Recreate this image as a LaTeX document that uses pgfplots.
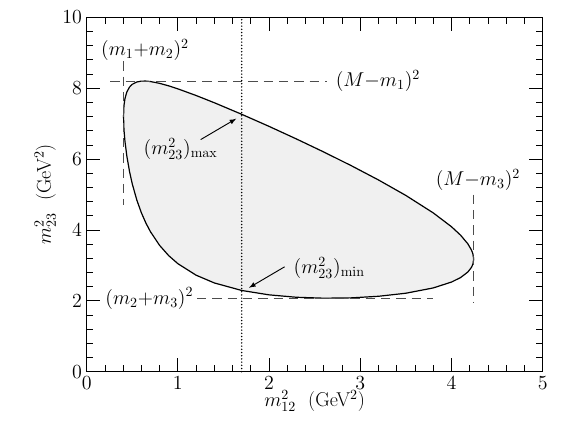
\documentclass[border=0pt]{standalone}
\usepackage{fix-cm}
\usepackage{pgfplots}
\pgfplotsset{compat=1.18}
\begin{document}
\begin{tikzpicture}
\begin{axis}[
  name=ax,
  at={(0,0)}, anchor=south west,
  scale only axis,
  width=342pt, height=265.8pt,
  xmin=0, xmax=5, ymin=0, ymax=10,
  xtick={0,1,2,3,4,5}, ytick={0,2,4,6,8,10},
  minor tick num=4,
  tick align=inside,
  major tick length=10pt, minor tick length=5pt,
  axis line style={line width=0.8pt},
  every tick/.style={line width=0.6pt, black},
  tick label style={font=\fontsize{15}{17}\selectfont},
  label style={font=\fontsize{15}{17}\selectfont},
  xlabel={$m^2_{12}$~~(GeV$^2$)},
  ylabel={$m^2_{23}$~~(GeV$^2$)},
  xlabel style={yshift=6pt},
  ylabel style={yshift=-2pt},
  clip=false,
]
\addplot[fill=gray!12, draw=black, line width=0.9pt] coordinates {
(0.4045,7.196) (0.407,7.426) (0.41,7.525) (0.42,7.707) (0.44,7.891)
(0.47,8.032) (0.5,8.110) (0.55,8.176) (0.6,8.200) (0.65,8.201)
(0.7,8.188) (0.8,8.137) (0.9,8.066) (1.0,7.982) (1.2,7.794)
(1.4,7.590) (1.7,7.264) (2.0,6.923) (2.3,6.568) (2.6,6.200)
(2.9,5.816) (3.2,5.411) (3.5,4.974) (3.8,4.482) (4.0,4.092)
(4.1,3.853) (4.18,3.608) (4.22,3.430) (4.235,3.326) (4.2436,3.176)
(4.235,3.035) (4.22,2.947) (4.18,2.814) (4.1,2.657) (4.0,2.530)
(3.8,2.364) (3.5,2.215) (3.2,2.129) (2.9,2.084) (2.6,2.075)
(2.3,2.101) (2.0,2.169) (1.7,2.293) (1.4,2.505) (1.2,2.724)
(1.0,3.049) (0.9,3.274) (0.8,3.564) (0.7,3.948) (0.65,4.192)
(0.6,4.484) (0.55,4.843) (0.5,5.300) (0.47,5.648) (0.44,6.092)
(0.42,6.499) (0.41,6.800) (0.407,6.936) (0.4045,7.196)
} -- cycle;
% dashed kinematic limits
\addplot[black!70, line width=0.8pt, dash pattern=on 7pt off 4.5pt] coordinates {(0.26,8.2) (2.63,8.2)};
\addplot[black!70, line width=0.8pt, dash pattern=on 7pt off 4.5pt] coordinates {(0.4045,8.76) (0.4045,4.71)};
\addplot[black!70, line width=0.8pt, dash pattern=on 7pt off 4.5pt] coordinates {(1.21,2.07) (3.80,2.07)};
\addplot[black!70, line width=0.8pt, dash pattern=on 7pt off 4.5pt] coordinates {(4.2436,5.0) (4.2436,1.94)};
% dotted line
\addplot[black, line width=1.2pt, dash pattern=on 0pt off 2.4pt, line cap=round] coordinates {(1.70,0) (1.70,10)};
% labels
\node[font=\fontsize{15}{17}\selectfont] at (axis cs:0.64,9.07) {$(m_1{+}m_2)^2$};
\node[font=\fontsize{15}{17}\selectfont, anchor=west] at (axis cs:2.68,8.2) {$(M{-}m_1)^2$};
\node[font=\fontsize{15}{17}\selectfont, anchor=east] at (axis cs:1.22,2.07) {$(m_2{+}m_3)^2$};
\node[font=\fontsize{15}{17}\selectfont] at (axis cs:4.29,5.42) {$(M{-}m_3)^2$};
\node[font=\fontsize{15}{17}\selectfont] at (axis cs:1.03,6.28) {$(m^2_{23})_{\max}$};
\node[font=\fontsize{15}{17}\selectfont] at (axis cs:2.66,2.93) {$(m^2_{23})_{\min}$};
\draw[-latex, line width=0.7pt] (axis cs:1.25,6.55) -- (axis cs:1.64,7.14);
\draw[-latex, line width=0.7pt] (axis cs:2.17,2.96) -- (axis cs:1.78,2.37);
\end{axis}
\pgfresetboundingbox
\path[use as bounding box] (-65.0pt,-44.5pt) rectangle (361.0pt,278.8pt);
\end{tikzpicture}
\end{document}
